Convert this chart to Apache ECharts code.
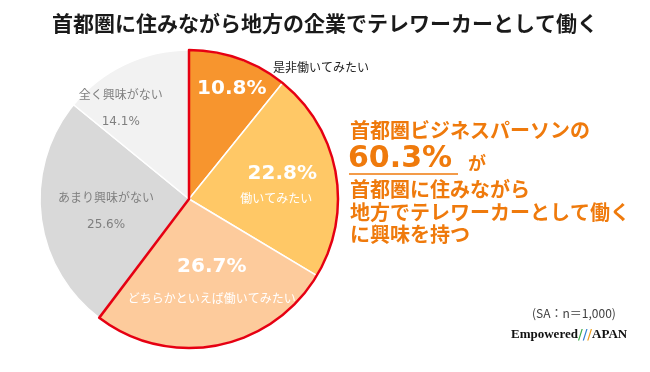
<!DOCTYPE html>
<html><head><meta charset="utf-8">
<script src="https://cdn.jsdelivr.net/npm/echarts@6/dist/echarts.min.js"></script>
<style>html,body{margin:0;padding:0;background:#fff}#c{width:650px;height:372px}</style>
</head><body><div id="c"></div>
<script>
// ---- data ----
const categories = ['是非働いてみたい', '働いてみたい', 'どちらかといえば働いてみたい', 'あまり興味がない', '全く興味がない'];
const values = [10.8, 22.8, 26.7, 25.6, 14.1];
const interestedCount = 3;
const titleText = '首都圏に住みながら地方の企業でテレワーカーとして働く';
const calloutLines = ['首都圏ビジネスパーソンの', 'が', '首都圏に住みながら', '地方でテレワーカーとして働く', 'に興味を持つ'];
const sampleNote = '(SA：n＝1,000)';

// ---- style ----
const CJK = '"Noto Sans CJK JP", "Noto Sans", sans-serif';
const NUM = '"DejaVu Sans", "Noto Sans CJK JP", sans-serif';
const ORANGE = '#EF7A0C';
const sliceColors = ['#F7952E', '#FFC866', '#FDCB9C', '#D9D9D9', '#F2F2F2'];
const labelOffsets = [[17, -37], [11, -1], [8, 9], [-6, 3], [-35, -21]];
const PIE_CENTER = [189, 199];
const PIE_RADIUS = 149;

const interestedTotal = values.slice(0, interestedCount).reduce((a, b) => a + b, 0);

function richFor(i) {
  if (i === 0) return { big: { color: '#fff', fontSize: 20, fontWeight: 'bold', fontFamily: NUM, lineHeight: 26 } };
  if (i === 1) return {
    big: { color: '#fff', fontSize: 20, fontWeight: 'bold', fontFamily: NUM, lineHeight: 28, padding: [0, 0, 0, 12] },
    small: { color: '#fff', fontSize: 12, fontFamily: CJK, lineHeight: 22 }
  };
  if (i === 2) return {
    big: { color: '#fff', fontSize: 20, fontWeight: 'bold', fontFamily: NUM, lineHeight: 28 },
    small: { color: '#fff', fontSize: 12, fontFamily: CJK, lineHeight: 34 }
  };
  return {
    g: { color: '#7F7F7F', fontSize: 12, fontFamily: CJK, lineHeight: 28 },
    n: { color: '#7F7F7F', fontSize: 12, fontFamily: NUM, lineHeight: 28 }
  };
}
function textFor(i) {
  const v = values[i].toFixed(1) + '%';
  if (i === 0) return '{big|' + v + '}';
  if (i < interestedCount) return '{big|' + v + '}\n{small|' + categories[i] + '}';
  return '{g|' + categories[i] + '}\n{n|' + v + '}';
}

const mainData = values.map((v, i) => ({
  name: categories[i],
  value: v,
  itemStyle: { color: sliceColors[i] },
  label: { formatter: textFor(i), rich: richFor(i) }
}));

const outlineData = [
  { name: 'interested', value: interestedTotal, itemStyle: { color: 'rgba(0,0,0,0)', borderColor: '#E60012', borderWidth: 2.5 } }
].concat(values.slice(interestedCount).map((v, i) => ({
  name: categories[interestedCount + i], value: v,
  itemStyle: { color: 'rgba(0,0,0,0)', borderWidth: 0 }
})));

const chart = echarts.init(document.getElementById('c'), null, { renderer: 'canvas' });
chart.setOption({
  backgroundColor: '#fff',
  animation: false,
  title: {
    text: titleText, left: 'center', top: 8,
    textStyle: { fontFamily: CJK, fontSize: 21, fontWeight: 'bold', color: '#1A1A1A' }
  },
  series: [
    {
      type: 'pie', center: PIE_CENTER, radius: [0, PIE_RADIUS],
      startAngle: 90, clockwise: true, avoidLabelOverlap: false,
      itemStyle: { borderColor: '#fff', borderWidth: 1.5 },
      label: { show: true, position: 'inside', align: 'center' },
      labelLine: { show: false },
      labelLayout: function (p) { const o = labelOffsets[p.dataIndex]; return { dx: o[0], dy: o[1] }; },
      emphasis: { disabled: true },
      data: mainData, z: 2
    },
    {
      type: 'pie', center: PIE_CENTER, radius: [0, PIE_RADIUS],
      startAngle: 90, clockwise: true, silent: true,
      label: { show: false }, labelLine: { show: false },
      emphasis: { disabled: true },
      data: outlineData, z: 3
    }
  ],
  graphic: [
    { type: 'text', left: 273, top: 61, z: 10,
      style: { text: categories[0], fontFamily: CJK, fontSize: 12, fill: '#222' } },
    { type: 'text', left: 350, top: 120, z: 10,
      style: { text: calloutLines[0], fontFamily: CJK, fontSize: 20, fontWeight: 'bold', fill: ORANGE } },
    { type: 'text', left: 348, top: 144, z: 10,
      style: { text: interestedTotal.toFixed(1) + '%', fontFamily: NUM, fontSize: 30, fontWeight: 'bold', fill: ORANGE } },
    { type: 'line', z: 10, shape: { x1: 349, y1: 174, x2: 458, y2: 174 }, style: { stroke: ORANGE, lineWidth: 1.5 } },
    { type: 'text', left: 468, top: 154, z: 10,
      style: { text: calloutLines[1], fontFamily: CJK, fontSize: 18, fontWeight: 'bold', fill: ORANGE } },
    { type: 'text', left: 350, top: 179, z: 10,
      style: { text: calloutLines[2], fontFamily: CJK, fontSize: 20, fontWeight: 'bold', fill: ORANGE } },
    { type: 'text', left: 350, top: 202, z: 10,
      style: { text: calloutLines[3], fontFamily: CJK, fontSize: 20, fontWeight: 'bold', fill: ORANGE } },
    { type: 'text', left: 350, top: 224, z: 10,
      style: { text: calloutLines[4], fontFamily: CJK, fontSize: 20, fontWeight: 'bold', fill: ORANGE } },
    { type: 'text', left: 532, top: 307, z: 10,
      style: { text: sampleNote, fontFamily: CJK, fontSize: 12, fill: '#404040' } },
    { type: 'text', left: 511, top: 328, z: 10,
      style: {
        text: '{e|Empowered}{g|/}{b|/}{o|/}{e|APAN}',
        rich: {
          e: { fontFamily: '"Liberation Serif", serif', fontWeight: 'bold', fontSize: 13, fill: '#111' },
          g: { fontFamily: '"DejaVu Sans", sans-serif', fontSize: 14, fill: '#3BAA4A' },
          b: { fontFamily: '"DejaVu Sans", sans-serif', fontSize: 14, fill: '#2F7FD0' },
          o: { fontFamily: '"DejaVu Sans", sans-serif', fontSize: 14, fill: '#F0A020' }
        }
      } }
  ]
});
</script></body></html>
